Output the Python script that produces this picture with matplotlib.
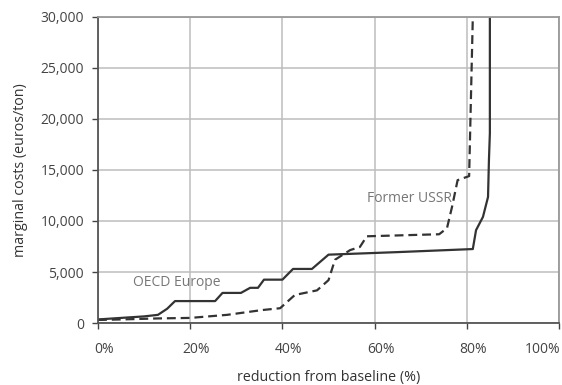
import matplotlib
matplotlib.use("Agg")
import matplotlib.pyplot as plt
from matplotlib.ticker import FuncFormatter
from matplotlib.transforms import ScaledTranslation

# OECD Europe (solid) - reduction (%) vs marginal cost (euros/ton)
oecd_x = [0, 5, 10, 13, 15, 16.7, 25.4, 27, 31, 33, 34.7, 36, 40, 42.3, 46.4, 50,
          65, 81.3, 82, 83.5, 84.6, 84.8, 85.0, 85.0]
oecd_y = [350, 500, 650, 800, 1400, 2150, 2150, 2950, 2950, 3450, 3450, 4250, 4250,
          5300, 5300, 6700, 6950, 7250, 9100, 10400, 12350, 16000, 18600, 30000]

# Former USSR (dashed)
ussr_x = [0, 5, 13, 20, 28, 35.6, 39.5, 42.7, 47.5, 50, 51.4, 54.7, 56.8, 58.3,
          74, 75.7, 76.8, 78, 80.5, 81.3]
ussr_y = [300, 350, 450, 500, 800, 1270, 1450, 2750, 3200, 4200, 6200, 7150, 7450,
          8500, 8700, 9300, 11400, 14000, 14400, 30000]

x_ticks = [0, 20, 40, 60, 80, 100]
y_ticks = [0, 5000, 10000, 15000, 20000, 25000, 30000]

plt.rcParams["font.family"] = ["Open Sans", "DejaVu Sans"]

fig = plt.figure(figsize=(5.62, 3.85), dpi=100)
ax = fig.add_axes([0.1744, 0.161, 0.8203, 0.795])

ax.plot(oecd_x, oecd_y, color="#333333", linewidth=1.6, solid_joinstyle="round")
ax.plot(ussr_x, ussr_y, color="#333333", linewidth=1.6, linestyle=(0, (4, 2.2)))

ax.set_xlim(0, 100)
ax.set_ylim(0, 30000)
ax.set_xticks(x_ticks)
ax.set_yticks(y_ticks)
ax.xaxis.set_major_formatter(FuncFormatter(lambda v, p: f"{int(v)}%"))
ax.yaxis.set_major_formatter(FuncFormatter(lambda v, p: f"{int(v):,}"))
ax.tick_params(axis="both", labelsize=10, colors="#444444", length=4, width=1)
ax.tick_params(axis="x", pad=10)
ax.tick_params(axis="y", pad=6)
ax.grid(True, color="#bdbdbd", linewidth=1.1)
ax.set_axisbelow(True)

# tick labels in the reference sit a little right of their gridlines,
# except the last one, which is pulled in to stay on the page
shift = ScaledTranslation(6 / 100, 0, fig.dpi_scale_trans)
xlabels = ax.get_xticklabels()
for lab in xlabels[:-1]:
    lab.set_transform(lab.get_transform() + shift)
xlabels[-1].set_horizontalalignment("right")
xlabels[-1].set_transform(xlabels[-1].get_transform() + ScaledTranslation(1 / 100, 0, fig.dpi_scale_trans))

for side in ("left", "bottom"):
    ax.spines[side].set_color("#555555")
    ax.spines[side].set_linewidth(1.3)
for side in ("top", "right"):
    ax.spines[side].set_color("#999999")
    ax.spines[side].set_linewidth(1.3)

ax.set_xlabel("reduction from baseline (%)", fontsize=10.3, color="#333333", labelpad=9)
ax.set_ylabel("marginal costs (euros/ton)", fontsize=10.3, color="#333333", labelpad=9)

ax.text(7.6, 4000, "OECD Europe", fontsize=10, color="#777777", va="center")
ax.text(58.4, 12250, "Former USSR", fontsize=10, color="#777777", va="center")

fig.savefig("out.png", dpi=100)
